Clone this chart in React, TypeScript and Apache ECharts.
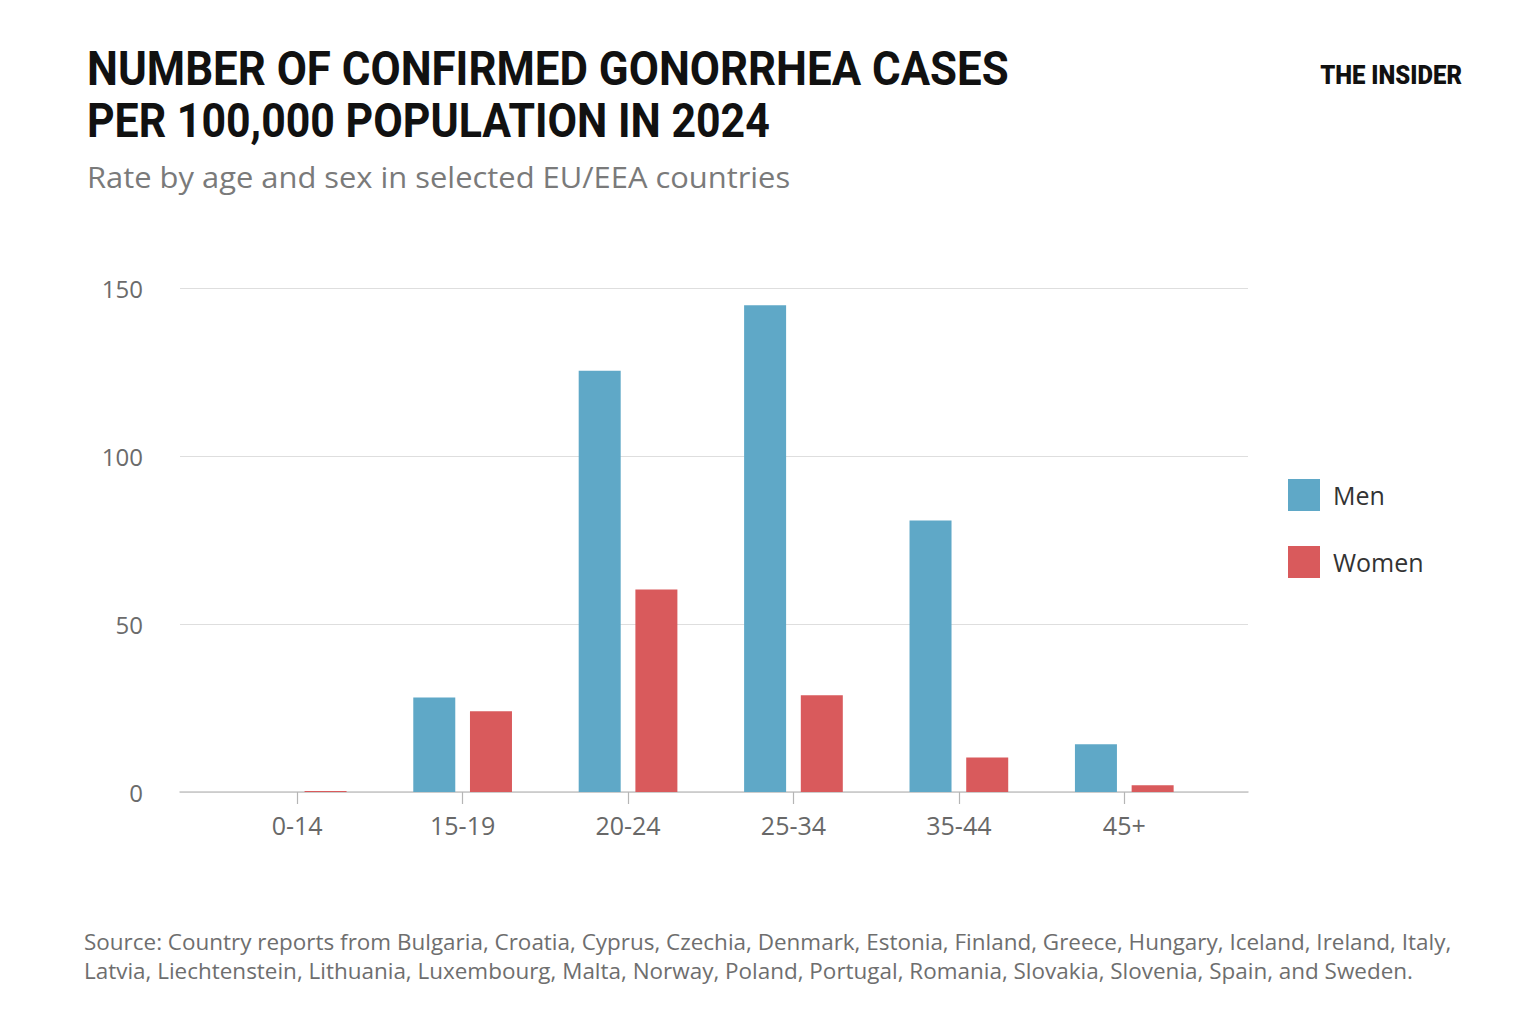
import React, { useEffect, useRef } from "react";
import * as echarts from "echarts";

const categories = ["0-14", "15-19", "20-24", "25-34", "35-44", "45+"];
const menValues = [0, 28.1, 125.4, 144.9, 80.8, 14.2];
const womenValues = [0.3, 24.0, 60.3, 28.8, 10.3, 2.0];
const yTicks = [0, 50, 100, 150];

const titleLines = [
  "NUMBER OF CONFIRMED GONORRHEA CASES",
  "PER 100,000 POPULATION IN 2024",
];
const subtitle = "Rate by age and sex in selected EU/EEA countries";
const sourceLines = [
  "Source: Country reports from Bulgaria, Croatia, Cyprus, Czechia, Denmark, Estonia, Finland, Greece, Hungary, Iceland, Ireland, Italy,",
  "Latvia, Liechtenstein, Lithuania, Luxembourg, Malta, Norway, Poland, Portugal, Romania, Slovakia, Slovenia, Spain, and Sweden.",
];
const brand = "THE INSIDER";

const BLUE = "#5fa8c7";
const RED = "#d95a5c";
const FONT = "'Open Sans', Roboto, sans-serif";
const TITLE_FONT = "Roboto, 'Open Sans', sans-serif";

function txt(text: string, x: number, y: number, fontSize: number, fill: string, fontWeight: any = "normal", fontFamily = FONT, align = "left", scaleX = 1) {
  return {
    type: "text",
    x,
    y,
    scaleX,
    silent: true,
    style: {
      text,
      fontSize,
      fontWeight,
      fontFamily,
      fill,
      textAlign: align,
      align,
      textVerticalAlign: "middle",
      verticalAlign: "middle",
    },
  };
}

export default function App() {
  const ref = useRef<HTMLDivElement>(null);

  useEffect(() => {
    document.body.style.margin = "0";
    document.body.style.background = "#ffffff";
    if (!ref.current) return;
    const chart = echarts.init(ref.current, null, { renderer: "svg" });
    const yMax = yTicks[yTicks.length - 1];

    const option: any = {
      animation: false,
      backgroundColor: "#ffffff",
      grid: [
        { left: 180, right: 288, top: 288, bottom: 232, containLabel: false },
        { left: 214.5, right: 329, top: 288, bottom: 232, containLabel: false },
      ],
      xAxis: [
        {
          type: "category",
          gridIndex: 0,
          data: categories,
          axisLine: { show: true, lineStyle: { color: "#c6c6c6", width: 1.5 } },
          axisTick: { show: false },
          axisLabel: { show: false },
          splitLine: { show: false },
        },
        {
          type: "category",
          gridIndex: 1,
          data: categories,
          axisLine: { show: false },
          axisTick: { show: true, alignWithLabel: true, length: 12, lineStyle: { color: "#b5b5b5", width: 1.2 } },
          axisLabel: { show: true, fontSize: 25, color: "#686868", fontFamily: FONT, margin: 20 },
          splitLine: { show: false },
        },
      ],
      yAxis: [
        {
          type: "value",
          gridIndex: 0,
          min: 0,
          max: yMax,
          interval: 50,
          axisLine: { show: false },
          axisTick: { show: false },
          axisLabel: { show: true, fontSize: 24, color: "#6b6b6b", fontFamily: FONT, margin: 37 },
          splitLine: { show: true, lineStyle: { color: "#dedede", width: 1.2 } },
        },
        {
          type: "value",
          gridIndex: 1,
          min: 0,
          max: yMax,
          interval: 50,
          show: false,
          splitLine: { show: false },
        },
      ],
      legend: {
        data: ["Men", "Women"],
        orient: "vertical",
        left: 1288,
        top: 479,
        itemWidth: 32,
        itemHeight: 32,
        itemGap: 35,
        icon: "rect",
        padding: 0,
        textStyle: { fontSize: 25, color: "#333333", fontFamily: FONT, padding: [0, 0, 0, 8] },
      },
      series: [
        {
          name: "Men",
          type: "bar",
          xAxisIndex: 1,
          yAxisIndex: 1,
          data: menValues,
          barWidth: 42,
          barGap: "35%",
          itemStyle: { color: BLUE },
        },
        {
          name: "Women",
          type: "bar",
          xAxisIndex: 1,
          yAxisIndex: 1,
          data: womenValues,
          barWidth: 42,
          barGap: "35%",
          itemStyle: { color: RED },
        },
      ],
      graphic: [
        txt(titleLines[0], 87, 68, 48, "#111111", "bold", TITLE_FONT, "left", 0.913),
        txt(titleLines[1], 87, 121, 48, "#111111", "bold", TITLE_FONT, "left", 0.893),
        txt(subtitle, 87, 176, 30, "#7a7a7a", "normal", FONT, "left", 1.03),
        txt(brand, 1462, 75, 26, "#111111", 900, TITLE_FONT, "right", 0.92),
        txt(sourceLines[0], 84, 942, 21, "#6e6e6e", "normal", FONT, "left", 1.07),
        txt(sourceLines[1], 84, 971, 21, "#6e6e6e", "normal", FONT, "left", 1.07),
      ],
    };

    chart.setOption(option);
    return () => chart.dispose();
  }, []);

  return <div ref={ref} style={{ width: 1536, height: 1024 }} />;
}
